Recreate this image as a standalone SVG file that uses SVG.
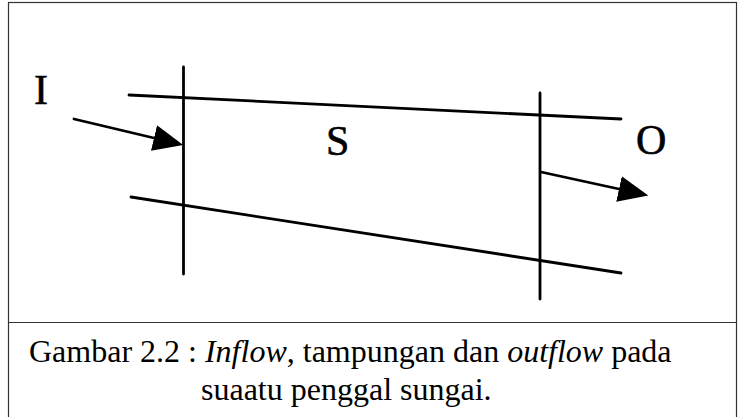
<svg xmlns="http://www.w3.org/2000/svg" width="738" height="417" viewBox="0 0 738 417">
<style>
.ln{stroke:#000;stroke-width:2.8;fill:none;stroke-linecap:round}
.lbl{font-family:"Liberation Serif","Times New Roman",serif;font-size:42px;fill:#000;stroke:#000;stroke-width:0.6}
.cap{font-family:"Liberation Serif","Times New Roman",serif;font-size:32px;fill:#000}
.frame{stroke:#333;stroke-width:1.2;fill:none}
</style>
<defs>
<marker id="ah" viewBox="0 -13 30 26" refX="0" refY="0" markerWidth="30" markerHeight="26" markerUnits="userSpaceOnUse" orient="auto">
<path d="M0,-13 L30,0 L0,13 z" fill="#000"/>
</marker>
</defs>
<rect width="738" height="417" fill="#fff"/>
<g id="frame">
<rect class="frame" x="8.5" y="2.5" width="728" height="430"/>
<line class="frame" x1="8.5" y1="322.5" x2="737" y2="322.5"/>
</g>
<g id="channel">
<line class="ln" x1="129" y1="95" x2="621" y2="119"/>
<line class="ln" x1="131" y1="197" x2="621" y2="273"/>
</g>
<g id="section-in">
<line class="ln" x1="183.5" y1="67" x2="183.5" y2="274"/>
</g>
<g id="section-out">
<line class="ln" x1="540" y1="93" x2="540" y2="299"/>
</g>
<g id="label-I"><text class="lbl" x="34" y="104">I</text></g>
<g id="label-S"><text class="lbl" x="326" y="155">S</text></g>
<g id="label-O"><text class="lbl" x="636" y="154">O</text></g>
<g id="connectors">
<line class="ln" x1="74" y1="119" x2="154" y2="138" marker-end="url(#ah)"/>
<line class="ln" x1="541" y1="172" x2="619" y2="189" marker-end="url(#ah)"/>
</g>
<g id="caption">
<text class="cap" x="29" y="362">Gambar 2.2 : <tspan font-style="italic">Inflow</tspan>, tampungan dan <tspan font-style="italic">outflow</tspan> pada</text>
<text class="cap" x="201" y="400">suaatu penggal sungai.</text>
</g>
</svg>
